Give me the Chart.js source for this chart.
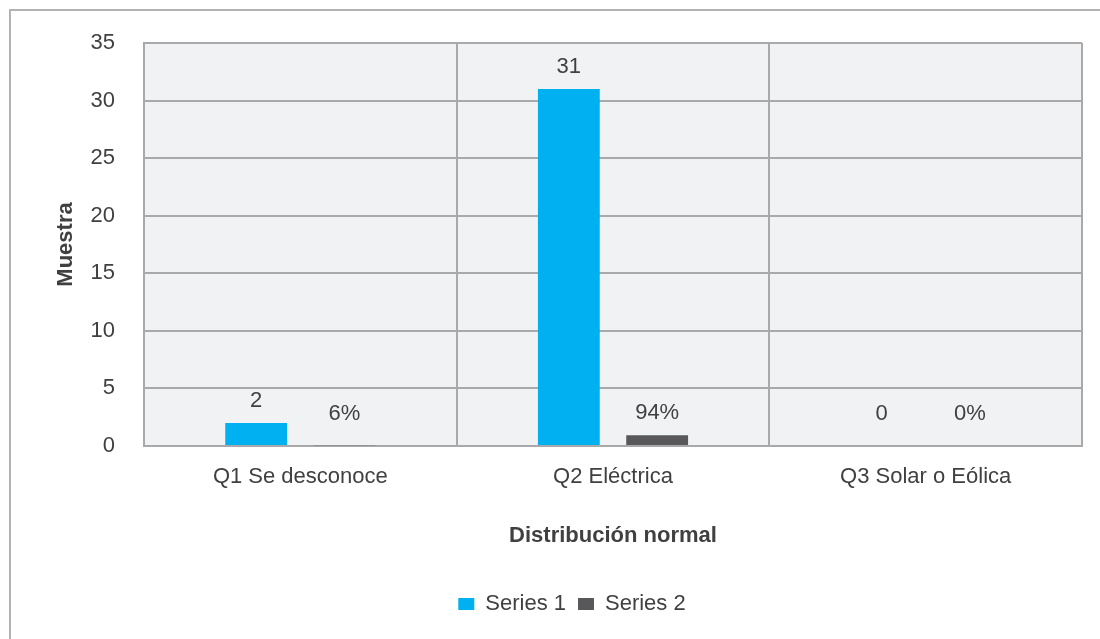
<!DOCTYPE html>
<html>
<head>
<meta charset="utf-8">
<script src="https://cdn.jsdelivr.net/npm/chart.js@4.4.1/dist/chart.umd.min.js"></script>
<style>
  html, body { margin: 0; padding: 0; background: #fff; overflow: hidden; }
  #wrap { position: relative; width: 1100px; height: 639px; }
  #frame {
    position: absolute; left: 9px; top: 9px; width: 1200px; height: 800px;
    border-left: 2px solid #b3b3b3; border-top: 2px solid #b3b3b3;
  }
  canvas { position: absolute; left: 0; top: 0; }
</style>
</head>
<body>
<div id="wrap">
  <div id="frame"></div>
  <canvas id="chart" width="1100" height="639"></canvas>
</div>
<script>
const categories = ['Q1 Se desconoce', 'Q2 Eléctrica', 'Q3 Solar o Eólica'];
const series1 = [2, 31, 0];
const series2 = [0.06, 0.94, 0];
const yMax = 35;
const yStep = 5;

const textColor = '#404040';
const lineColor = '#a9a9a9';

// grey fill behind the bars
const plotBg = {
  id: 'plotBg',
  beforeDraw(chart) {
    const { ctx, chartArea: a } = chart;
    ctx.save();
    ctx.fillStyle = '#f1f2f4';
    ctx.fillRect(a.left, a.top, a.right - a.left, a.bottom - a.top);
    ctx.restore();
  }
};

// value labels above each bar
const barLabels = {
  id: 'barLabels',
  afterDatasetsDraw(chart) {
    const { ctx } = chart;
    const base = chart.scales.y.getPixelForValue(0);
    ctx.save();
    ctx.font = '22px "Liberation Sans", Arial, sans-serif';
    ctx.fillStyle = textColor;
    ctx.textAlign = 'center';
    ctx.textBaseline = 'middle';
    chart.data.datasets.forEach((ds, di) => {
      chart.getDatasetMeta(di).data.forEach((bar, i) => {
        const v = ds.data[i];
        const txt = di === 1 ? Math.round(v * 100) + '%' : String(v);
        const y = Math.min(bar.y - 22, base - 32);
        ctx.fillText(txt, bar.x, y);
      });
    });
    ctx.restore();
  }
};

Chart.defaults.font.family = '"Liberation Sans", Arial, sans-serif';
Chart.defaults.font.size = 22;
Chart.defaults.color = textColor;

new Chart(document.getElementById('chart'), {
  type: 'bar',
  data: {
    labels: categories,
    datasets: [
      { label: 'Series 1', data: series1, backgroundColor: '#00b0f0',
        categoryPercentage: 0.565, barPercentage: 0.7 },
      { label: 'Series 2', data: series2, backgroundColor: '#58585a',
        categoryPercentage: 0.565, barPercentage: 0.7 }
    ]
  },
  options: {
    responsive: false,
    animation: false,
    layout: { padding: { left: 62, right: 18, top: 43, bottom: 14 } },
    scales: {
      x: {
        grid: { color: lineColor, lineWidth: 2, drawTicks: false, offset: true },
        border: { color: lineColor, width: 2 },
        ticks: { padding: 18, maxRotation: 0, color: textColor, font: { size: 22 } },
        title: {
          display: true, text: 'Distribución normal', color: textColor,
          font: { size: 22, weight: 'bold' }, padding: { top: 0, bottom: 32 }
        },
        afterFit(s) { s.height = 135; }
      },
      y: {
        min: 0, max: yMax,
        grid: { color: lineColor, lineWidth: 2, drawTicks: false },
        border: { color: lineColor, width: 2 },
        ticks: { stepSize: yStep, padding: 29, color: textColor, font: { size: 22 } },
        title: {
          display: true, text: 'Muestra', color: textColor,
          font: { size: 22, weight: 'bold' }, padding: { top: -9.2, bottom: 0 }
        },
        afterFit(s) { s.width = 82; }
      }
    },
    plugins: {
      legend: {
        position: 'bottom',
        labels: { boxWidth: 16, boxHeight: 12, padding: 12, color: textColor, font: { size: 22 } }
      },
      tooltip: { enabled: false }
    }
  },
  plugins: [plotBg, barLabels]
});
</script>
</body>
</html>
